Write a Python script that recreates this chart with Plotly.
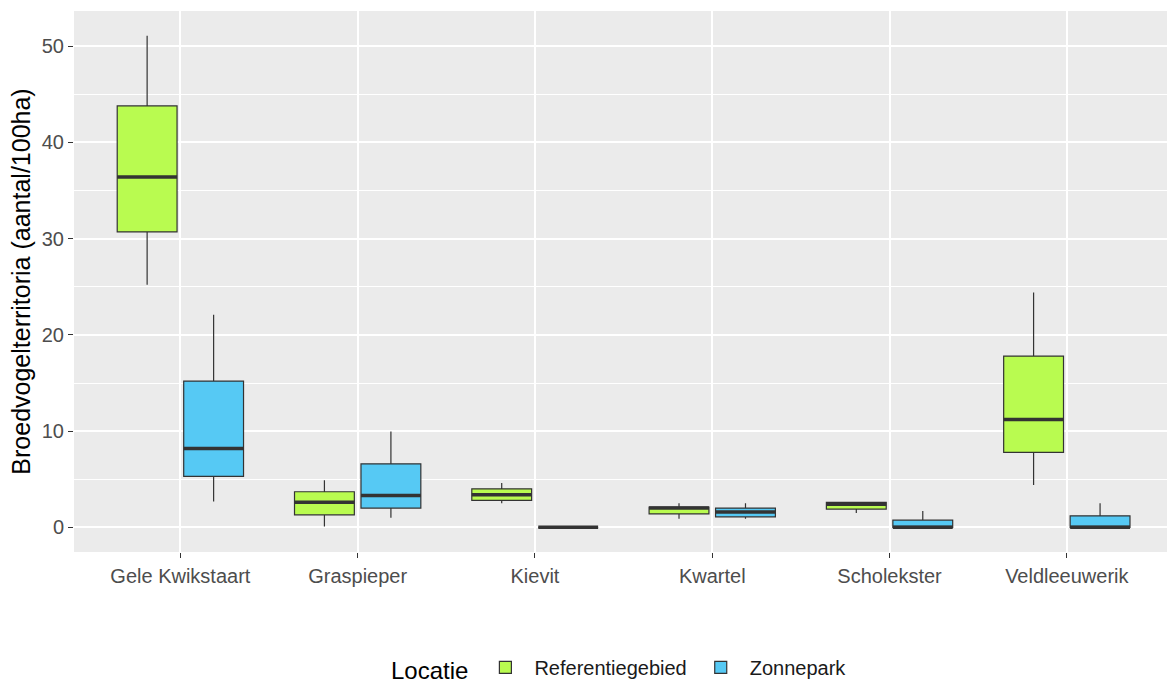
import plotly.graph_objects as go

# Broedvogelterritoria per 100 ha, samengevat als boxplot-statistieken
soorten = ["Gele Kwikstaart", "Graspieper", "Kievit", "Kwartel", "Scholekster", "Veldleeuwerik"]

ref_lower = [25.2, 0.1, 2.5, 0.9, 1.5, 4.4]
ref_q1 = [30.7, 1.3, 2.8, 1.4, 1.9, 7.8]
ref_median = [36.4, 2.6, 3.4, 2.0, 2.4, 11.2]
ref_q3 = [43.8, 3.7, 4.0, 2.1, 2.6, 17.8]
ref_upper = [51.1, 4.9, 4.6, 2.5, 2.6, 24.4]

zon_lower = [2.7, 1.0, 0.0, 0.9, 0.0, 0.0]
zon_q1 = [5.3, 2.0, 0.0, 1.1, 0.0, 0.0]
zon_median = [8.2, 3.3, 0.0, 1.6, 0.0, 0.0]
zon_q3 = [15.2, 6.6, 0.0, 2.0, 0.75, 1.2]
zon_upper = [22.1, 9.95, 0.0, 2.5, 1.7, 2.5]

# dodge zoals ggplot: breedte 0.75 verdeeld over twee groepen
DODGE = 0.75
BOX_W = DODGE / 2 * 0.9
groepen = [
    ("Referentiegebied", "#B9FB50", -DODGE / 4, ref_lower, ref_q1, ref_median, ref_q3, ref_upper),
    ("Zonnepark", "#56C9F4", DODGE / 4, zon_lower, zon_q1, zon_median, zon_q3, zon_upper),
]

LINE = "#333333"

fig = go.Figure()
for naam, kleur, offset, lo, q1, med, q3, hi in groepen:
    pos = [i + offset for i in range(len(soorten))]
    fig.add_trace(go.Box(
        name=naam, x=pos, q1=q1, median=med, q3=q3,
        lowerfence=lo, upperfence=hi, width=BOX_W,
        fillcolor=kleur, line=dict(color=LINE, width=1.2),
        whiskerwidth=0, boxpoints=False, showlegend=True,
    ))
    # dikke mediaanlijnen
    mx, my = [], []
    for p, m in zip(pos, med):
        mx += [p - BOX_W / 2, p + BOX_W / 2, None]
        my += [m, m, None]
    fig.add_trace(go.Scatter(
        x=mx, y=my, mode="lines", line=dict(color=LINE, width=3.5),
        showlegend=False, hoverinfo="skip",
    ))

fig.update_layout(
    width=1167, height=686,
    margin=dict(l=74, r=0, t=11, b=134),
    paper_bgcolor="white", plot_bgcolor="#EBEBEB",
    font=dict(family="Liberation Sans, Arial, sans-serif", color="#4D4D4D"),
    legend=dict(
        orientation="h", x=0.5, xanchor="center",
        yref="container", y=0.025, yanchor="middle",
        title=dict(text="Locatie", font=dict(size=24, color="#000000")),
        font=dict(size=20, color="#1A1A1A"), bgcolor="rgba(0,0,0,0)",
        itemwidth=48,
    ),
    xaxis=dict(
        range=[-0.6, 5.565], tickmode="array",
        tickvals=list(range(len(soorten))), ticktext=soorten,
        showgrid=True, gridcolor="white", gridwidth=1.5, zeroline=False,
        ticks="outside", ticklen=5, tickcolor="#333333", tickwidth=1.2,
        tickfont=dict(size=20, color="#4D4D4D"), automargin=False,
        ticklabelstandoff=1,
    ),
    yaxis=dict(
        range=[-2.56, 53.66], tickvals=[0, 10, 20, 30, 40, 50],
        showgrid=True, gridcolor="white", gridwidth=1.5, zeroline=False,
        ticks="outside", ticklen=5, tickcolor="#333333", tickwidth=1.2,
        tickfont=dict(size=20, color="#4D4D4D"), automargin=False,
        minor=dict(tickvals=[5, 15, 25, 35, 45], showgrid=True,
                   gridcolor="white", gridwidth=0.7, ticks=""),
        title=dict(text="Broedvogelterritoria (aantal/100ha)",
                   font=dict(size=25, color="#000000"), standoff=4),
    ),
)

fig.write_html("out.html")
